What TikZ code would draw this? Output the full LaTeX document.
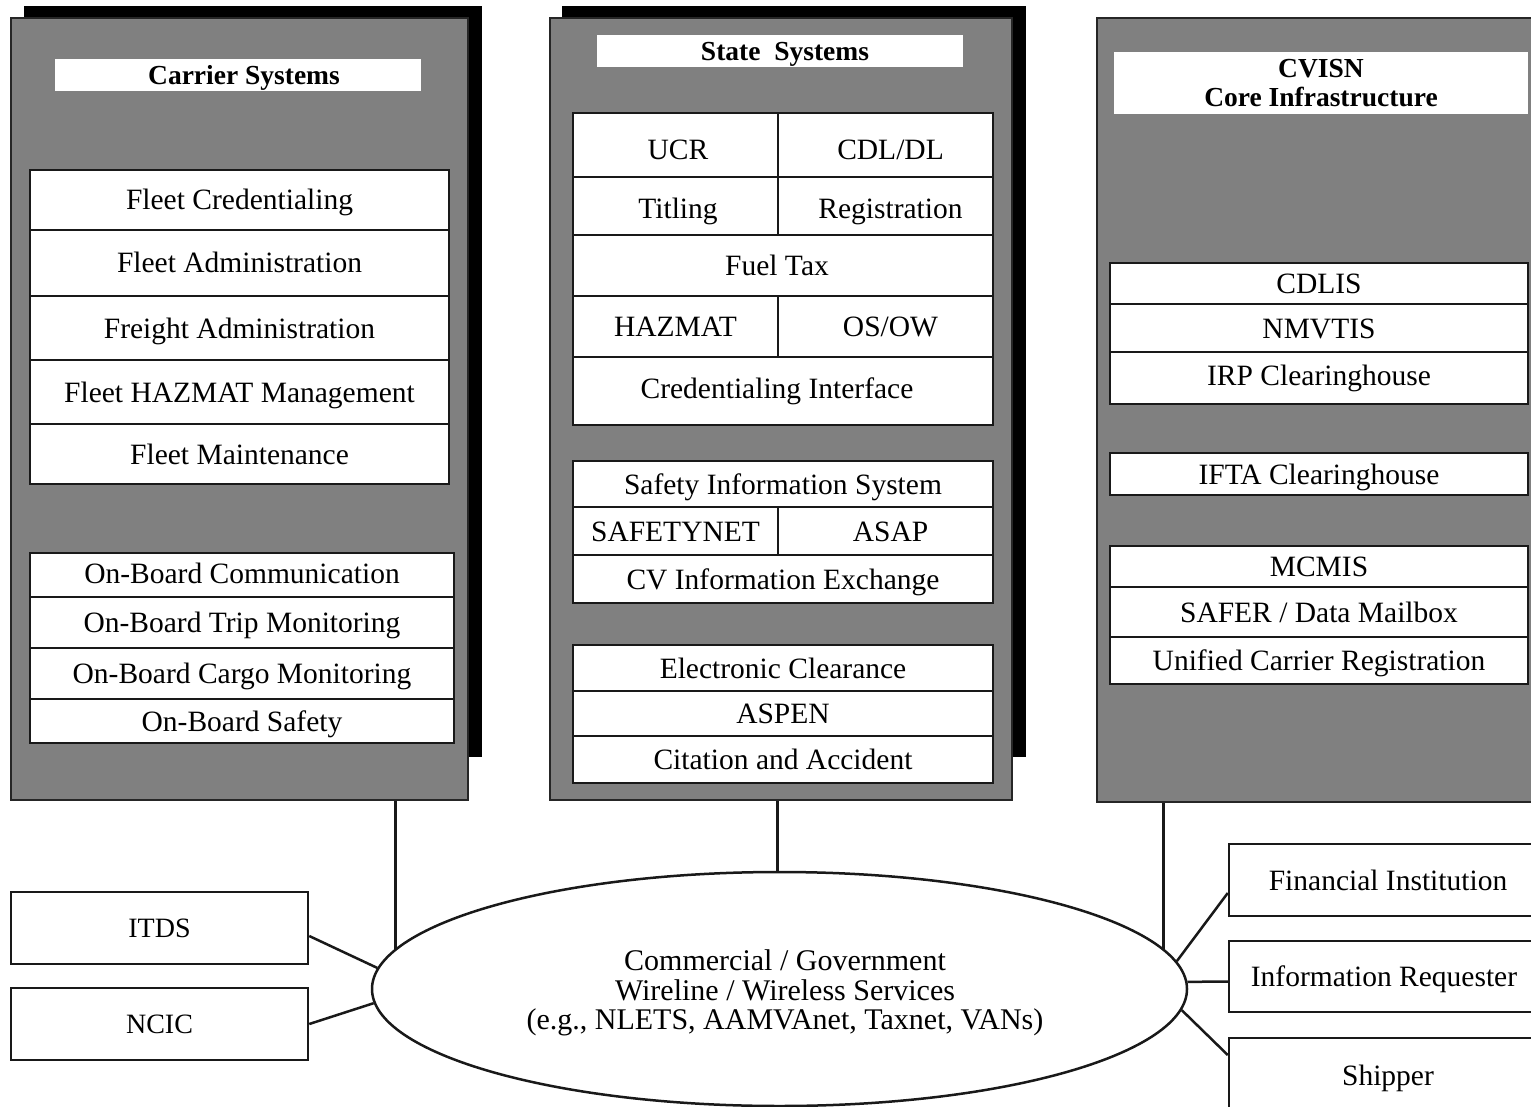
\documentclass[tikz,border=0pt]{standalone}
\usepackage{fontspec}
\setmainfont{Liberation Serif}
\usetikzlibrary{shapes.geometric}
\newcommand{\mkcell}[6]{\node[cell, minimum width=#4pt, minimum height=#5pt] (#1) at (#2,#3) {#6};}
\begin{document}
\begin{tikzpicture}[x=1pt,y=-1pt,
  panel/.style={draw=black!85, fill=black!50, line width=2pt, inner sep=0pt},
  shadowbox/.style={fill=black, inner sep=0pt},
  ttl/.style={fill=white, inner sep=0pt, font=\bfseries\fontsize{27.5}{29}\selectfont, align=center},
  cell/.style={draw=black!90, fill=white, line width=2.5pt, inner sep=0pt, font=\fontsize{29.5}{31}\selectfont, text height=20pt, text depth=0pt},
  extbox/.style={draw=black!90, fill=white, line width=2.5pt, inner sep=0pt, font=\fontsize{29.5}{31}\selectfont, text height=20pt, text depth=0pt},
  tbox/.style={draw=black!90, fill=white, line width=2.5pt, inner sep=0pt, font=\fontsize{28}{29}\selectfont, text height=19pt, text depth=0pt},
  conn/.style={draw=black!90, line width=2.5pt}]
\useasboundingbox (0,0) rectangle (1531,1107);
% shadows
\node[shadowbox, minimum width=458pt, minimum height=751pt] (sh1) at (253,381.5) {};
\node[shadowbox, minimum width=464pt, minimum height=751pt] (sh2) at (794,381.5) {};
% panels
\node[panel, minimum width=457pt, minimum height=782pt] (carrier) at (239.5,409) {};
\node[panel, minimum width=462pt, minimum height=782pt] (state) at (781,409) {};
\node[panel, minimum width=448pt, minimum height=784pt] (cvisn) at (1321,410) {};
% titles
\node[ttl, text height=19pt, text depth=0pt, minimum width=366pt, minimum height=32pt] (t1) at (238,75) {\hspace*{12pt}Carrier Systems};
\node[ttl, text height=19pt, text depth=0pt, minimum width=366pt, minimum height=32pt] (t2) at (780,51) {\hspace*{10pt}State~~Systems};
\node[ttl, minimum width=414pt, minimum height=62pt] (t3) at (1321,83) {CVISN\\Core Infrastructure};
% carrier cells
\mkcell{fc}{239.5}{200}{419}{60}{Fleet Credentialing}
\mkcell{fa}{239.5}{263}{419}{66}{Fleet Administration}
\mkcell{fra}{239.5}{328}{419}{64}{Freight Administration}
\mkcell{fh}{239.5}{392}{419}{64}{Fleet HAZMAT Management}
\mkcell{fm}{239.5}{454}{419}{60}{Fleet Maintenance}
\mkcell{obc}{242}{575}{424}{44}{\raisebox{2pt}{On-Board Communication}}
\mkcell{obt}{242}{622.5}{424}{51}{On-Board Trip Monitoring}
\mkcell{obcm}{242}{673.5}{424}{51}{On-Board Cargo Monitoring}
\mkcell{obs}{242}{721}{424}{44}{On-Board Safety}
% state cells
\mkcell{ucr}{675.5}{145}{205}{64}{\raisebox{-5pt}{\hspace*{5pt}UCR}}
\mkcell{cdl}{885.5}{145}{215}{64}{\raisebox{-5pt}{\hspace*{10pt}CDL/DL}}
\mkcell{tit}{675.5}{206}{205}{58}{\raisebox{-3pt}{\hspace*{5pt}Titling}}
\mkcell{reg}{885.5}{206}{215}{58}{\raisebox{-3pt}{\hspace*{10pt}Registration}}
\mkcell{fuel}{783}{265.5}{420}{61}{\hspace*{-12pt}Fuel Tax}
\mkcell{haz}{675.5}{326.5}{205}{61}{HAZMAT}
\mkcell{osow}{885.5}{326.5}{215}{61}{\hspace*{10pt}OS/OW}
\mkcell{cif}{783}{391}{420}{68}{\raisebox{3pt}{\hspace*{-12pt}Credentialing Interface}}
\mkcell{sis}{783}{484}{420}{46}{Safety Information System}
\mkcell{snet}{675.5}{531}{205}{48}{SAFETYNET}
\mkcell{asap}{885.5}{531}{215}{48}{\hspace*{10pt}ASAP}
\mkcell{cvie}{783}{579}{420}{48}{CV Information Exchange}
\mkcell{ec}{783}{668}{420}{46}{Electronic Clearance}
\mkcell{aspen}{783}{713.5}{420}{45}{ASPEN}
\mkcell{ca}{783}{759.5}{420}{47}{Citation and Accident}
% cvisn cells
\mkcell{cdlis}{1319}{283.5}{418}{41}{CDLIS}
\mkcell{nmv}{1319}{328}{418}{48}{NMVTIS}
\mkcell{irp}{1319}{378}{418}{52}{\raisebox{3pt}{IRP Clearinghouse}}
\mkcell{ifta}{1319}{474}{418}{42}{IFTA Clearinghouse}
\mkcell{mcmis}{1319}{566.5}{418}{41}{MCMIS}
\mkcell{safer}{1319}{612}{418}{50}{SAFER / Data Mailbox}
\mkcell{ucr2}{1319}{660.5}{418}{47}{Unified Carrier Registration}
% network
\node[draw=black!90, fill=white, ellipse, line width=2.5pt, inner sep=0pt, minimum width=815pt, minimum height=234pt] (net) at (779.5,989) {};
\node[align=center, inner sep=0pt, font=\fontsize{30}{29.5}\selectfont] (nettxt) at (785,993) {Commercial / Government\\Wireline / Wireless Services\\(e.g., NLETS, AAMVAnet, Taxnet, VANs)};
% external boxes
\node[tbox, minimum width=297pt, minimum height=72pt] (itds) at (159.5,928) {ITDS};
\node[tbox, minimum width=297pt, minimum height=72pt] (ncic) at (159.5,1024) {NCIC};
\node[extbox, minimum width=318pt, minimum height=72pt] (fin) at (1388,880) {Financial Institution};
\node[extbox, minimum width=318pt, minimum height=71pt] (info) at (1388,976.5) {\hspace*{-8pt}Information Requester};
\node[extbox, minimum width=318pt, minimum height=74pt] (ship) at (1388,1075) {Shipper};
% connectors
\draw[conn] (net.174 |- carrier.south) -- (net.174);
\draw[conn] (net.91 |- state.south) -- (net.91);
\draw[conn] (net.6 |- cvisn.south) -- (net.6);
\draw[conn] ([yshift=-8pt]itds.east) -- (net.177);
\draw[conn] (ncic.east) -- (net.182);
\draw[conn] ([yshift=-13pt]fin.west) -- (net.4);
\draw[conn] ([yshift=-5pt]info.west) -- (net.1);
\draw[conn] ([yshift=20pt]ship.west) -- (net.-3);
\end{tikzpicture}
\end{document}
